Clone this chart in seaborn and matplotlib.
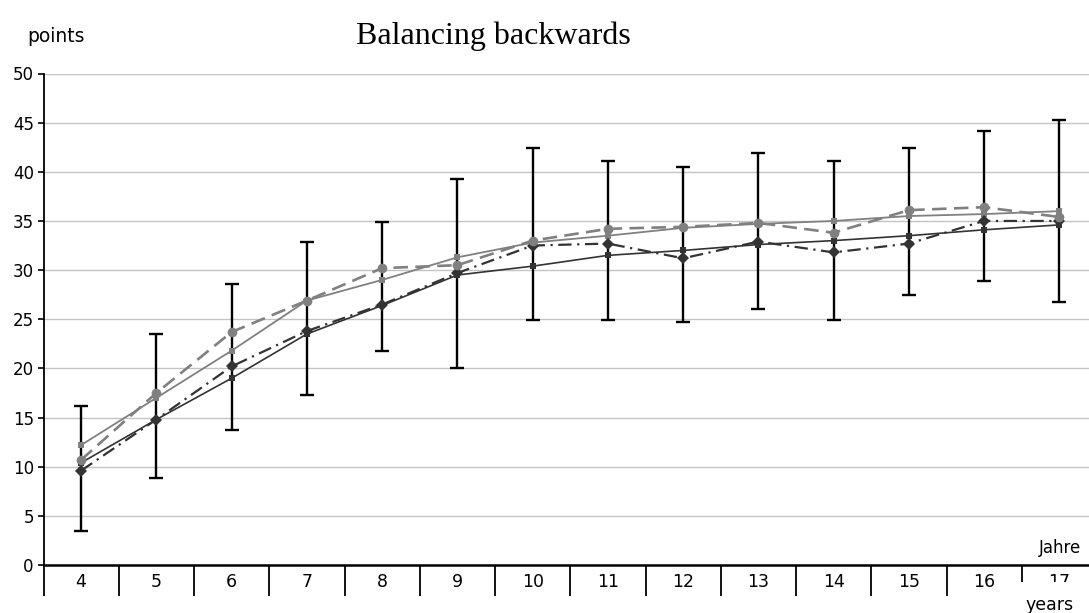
import numpy as np
import matplotlib
matplotlib.use("Agg")
import matplotlib.pyplot as plt
from matplotlib.patches import Rectangle
import seaborn as sns

# ---- data ----
ages = [4, 5, 6, 7, 8, 9, 10, 11, 12, 13, 14, 15, 16, 17]
fit_dark = [10.4, 14.8, 19.0, 23.5, 26.4, 29.5, 30.4, 31.5, 32.0, 32.6, 33.0, 33.5, 34.1, 34.6]
series_diamond = [9.6, 14.8, 20.2, 23.8, 26.5, 29.7, 32.5, 32.7, 31.2, 32.9, 31.8, 32.7, 35.0, 35.0]
series_circle = [10.7, 17.5, 23.7, 26.9, 30.2, 30.5, 33.0, 34.2, 34.4, 34.8, 33.8, 36.1, 36.4, 35.4]
fit_gray = [12.2, 17.0, 21.8, 26.9, 29.0, 31.3, 32.8, 33.5, 34.3, 34.7, 35.0, 35.5, 35.7, 36.0]
err_low = [3.5, 8.8, 13.7, 17.3, 21.8, 20.0, 24.9, 24.9, 24.7, 26.0, 24.9, 27.5, 28.9, 26.8]
err_high = [16.2, 23.5, 28.6, 32.9, 34.9, 39.3, 42.4, 41.1, 40.5, 41.9, 41.1, 42.4, 44.1, 45.3]
y_ticks = [0, 5, 10, 15, 20, 25, 30, 35, 40, 45, 50]

sns.set_theme(style="white")
plt.rcParams['font.family'] = ['DejaVu Sans']

W, H = 1089, 613
fig = plt.figure(figsize=(W / 100, H / 100), dpi=100)
ax_left, ax_right, ax_top, ax_bottom = 43.5, 1097, 73.5, 565
ax = fig.add_axes([ax_left / W, 1 - ax_bottom / H, (ax_right - ax_left) / W, (ax_bottom - ax_top) / H])

x = np.arange(len(ages))
lo = np.array(err_low)
hi = np.array(err_high)
mid = (lo + hi) / 2

ax.errorbar(x, mid, yerr=[mid - lo, hi - mid], fmt='none', ecolor='black',
            elinewidth=1.7, capsize=5, capthick=1.7, zorder=2)

dark = '#333333'
gray = '#808080'
sns.lineplot(x=x, y=fit_dark, ax=ax, color=dark, linewidth=1.2, marker='s',
             markersize=4, markeredgewidth=0, zorder=3)
sns.lineplot(x=x, y=series_diamond, ax=ax, color=dark, linewidth=1.6,
             linestyle=(0, (6, 2.5, 1, 2.5)), marker='D', markersize=6.5,
             markeredgewidth=0, zorder=4)
sns.lineplot(x=x, y=fit_gray, ax=ax, color=gray, linewidth=1.3, marker='s',
             markersize=4.5, markeredgewidth=0, zorder=3)
sns.lineplot(x=x, y=series_circle, ax=ax, color=gray, linewidth=1.9,
             linestyle=(0, (5.5, 2.8)), marker='o', markersize=7,
             markeredgewidth=0, zorder=4)

ax.set_xlim(-0.5, len(ages) - 0.5)
ax.set_ylim(0, 50)
ax.set_yticks(y_ticks)
ax.set_yticklabels([str(t) for t in y_ticks], fontsize=12, color='black')
ax.yaxis.grid(True, color='#c4c4c4', linewidth=1)
ax.xaxis.grid(False)
ax.set_axisbelow(True)

ax.set_xticks(np.arange(-0.5, len(ages), 1.0))
ax.set_xticklabels([])
ax.set_xticks(x, minor=True)
ax.set_xticklabels([str(a) for a in ages], minor=True, fontsize=12.5, color='black')
ax.tick_params(axis='x', which='major', direction='out', length=22, width=1.3,
               color='black', bottom=True)
ax.tick_params(axis='x', which='minor', length=0, pad=6, bottom=True)
ax.tick_params(axis='y', which='major', direction='out', length=4, width=1.2,
               color='black', left=True, pad=3)

for s in ['top', 'right']:
    ax.spines[s].set_visible(False)
ax.spines['left'].set_color('black')
ax.spines['left'].set_linewidth(1.3)
ax.spines['bottom'].set_color('black')
ax.spines['bottom'].set_linewidth(1.8)
ax.spines['bottom'].set_zorder(5)
ax.set_xlabel('')
ax.set_ylabel('')

fig.text(493 / W, 1 - 44 / H, 'Balancing backwards', family=['Liberation Serif', 'DejaVu Serif'],
         fontsize=23, ha='center', va='baseline', color='black')
fig.text(27 / W, 1 - 42 / H, 'points', fontsize=13.5, ha='left', va='baseline', color='black')
fig.text(1081 / W, 1 - 548 / H, 'Jahre', fontsize=12, ha='right', va='center', color='black')

# white box of the "years" label partly covering the last category label
fig.patches.append(Rectangle((1021 / W, 0), 68 / W, (H - 582) / H, transform=fig.transFigure,
                             facecolor='white', edgecolor='none', zorder=9))
fig.text(1025 / W, 1 - 610 / H, 'years', fontsize=12.5, ha='left', va='baseline', color='black',
         zorder=10)

fig.savefig('out.png', dpi=100)
